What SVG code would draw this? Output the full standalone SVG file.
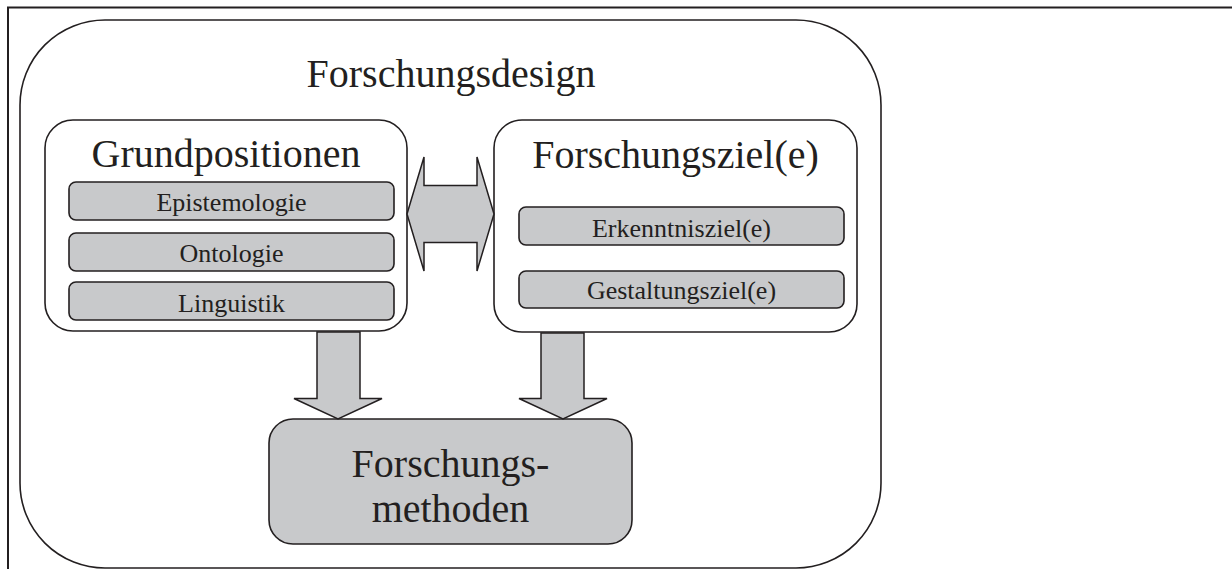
<svg xmlns="http://www.w3.org/2000/svg" width="1232" height="569" viewBox="0 0 1232 569">
  <style>
    .frame { fill: none; stroke: #231f20; stroke-width: 2; }
    .box { fill: #ffffff; stroke: #231f20; stroke-width: 1.6; }
    .gray { fill: #c8c9cb; stroke: #231f20; stroke-width: 1.6; }
    .arrow { fill: #c8c9cb; stroke: #231f20; stroke-width: 1.5; stroke-linejoin: miter; }
    text { font-family: "Liberation Serif", "Times New Roman", serif; fill: #231f20; text-anchor: middle; }
    .big { font-size: 40px; }
    .small { font-size: 26px; }
  </style>
  <rect width="1232" height="569" fill="#ffffff"/>
  <g id="frame">
    <path class="frame" d="M8,569 V7.5 H1232"/>
  </g>
  <g id="forschungsdesign">
    <rect class="box" x="20" y="20" width="861" height="548" rx="85" ry="85"/>
    <text class="big" x="451" y="87">Forschungsdesign</text>
  </g>
  <g id="grundpositionen">
    <rect class="box" x="45" y="120" width="362" height="211" rx="28" ry="28"/>
    <text class="big" x="226" y="167">Grundpositionen</text>
  </g>
  <g id="epistemologie">
    <rect class="gray" x="69" y="182" width="325" height="38" rx="7" ry="7"/>
    <text class="small" x="231.5" y="210.5">Epistemologie</text>
  </g>
  <g id="ontologie">
    <rect class="gray" x="69" y="233" width="325" height="38" rx="7" ry="7"/>
    <text class="small" x="231.5" y="262">Ontologie</text>
  </g>
  <g id="linguistik">
    <rect class="gray" x="69" y="282" width="325" height="38" rx="7" ry="7"/>
    <text class="small" x="231.5" y="311.5">Linguistik</text>
  </g>
  <g id="forschungsziele">
    <rect class="box" x="494" y="120" width="363" height="212" rx="28" ry="28"/>
    <text class="big" x="675.5" y="168">Forschungsziel(e)</text>
  </g>
  <g id="erkenntnisziele">
    <rect class="gray" x="519" y="207" width="325" height="38" rx="7" ry="7"/>
    <text class="small" x="681.5" y="236.5">Erkenntnisziel(e)</text>
  </g>
  <g id="gestaltungsziele">
    <rect class="gray" x="519" y="271" width="325" height="37" rx="7" ry="7"/>
    <text class="small" x="681.5" y="299">Gestaltungsziel(e)</text>
  </g>
  <g id="forschungsmethoden">
    <rect class="gray" x="269" y="419" width="363" height="125" rx="24" ry="24"/>
    <text class="big" x="450.5" y="477">Forschungs-</text>
    <text class="big" x="450.5" y="522">methoden</text>
  </g>
  <g id="connectors">
    <polygon class="arrow" points="407,214 424,157 424,185.5 477,185.5 477,157 494,214 477,271 477,242.5 424,242.5 424,271"/>
    <polygon class="arrow" points="317,332 360,332 360,398.5 382,398.5 338,419 294,398.5 317,398.5"/>
    <polygon class="arrow" points="541,333 584,333 584,398.5 607,398.5 563,419 519,398.5 541,398.5"/>
  </g>
</svg>
